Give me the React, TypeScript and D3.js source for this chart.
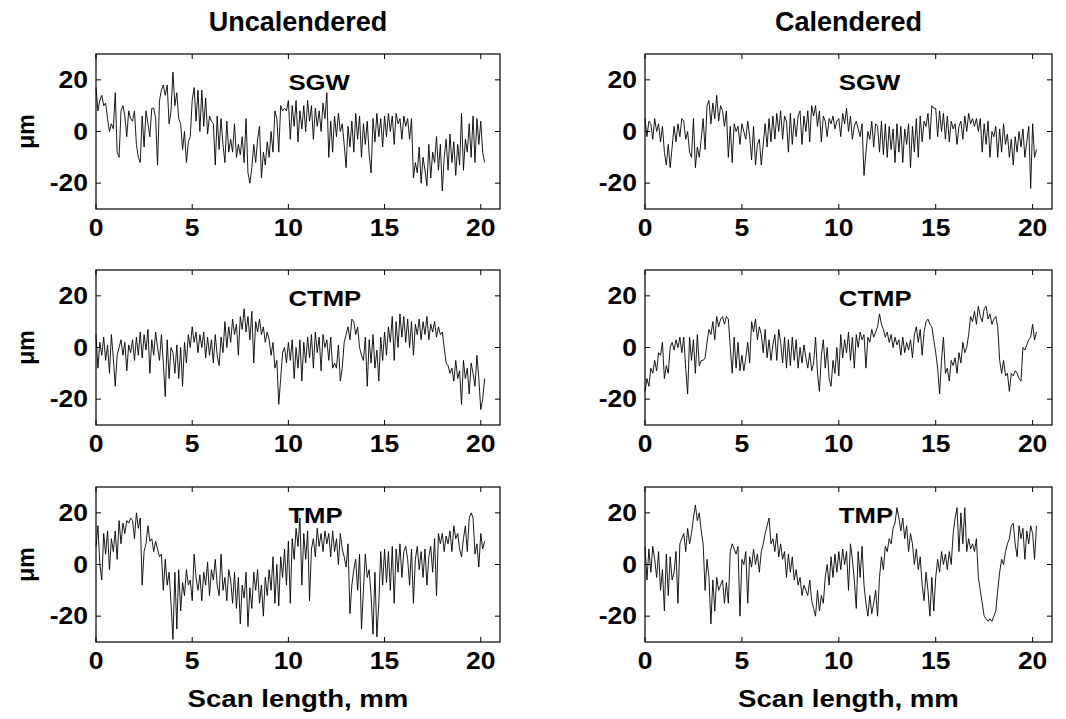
import * as d3 from 'd3';

// sample spacing of the profilometer scans (mm)
const STEP = 0.1;

const columnTitles = ['Uncalendered', 'Calendered'];
const rowLabels = ['SGW', 'CTMP', 'TMP'];
const xTicks = [0, 5, 10, 15, 20];
const yTicks = [-20, 0, 20];

// surface height (µm), every 0.1 mm
const sgwUncal = [
  17, 8, 12, 14, 10, 11, 5, 0, 3, 1,
  15, -8, -10, 8, 10, 6, -2, 8, 5, 4,
  8, -5, -10, -12, 6, -6, 8, 3, -2, 9,
  9, 5, -13, 12, 16, 18, 14, 18, 3, 8,
  23, 10, 15, 5, 3, -7, 0, -12, -4, -2,
  12, 17, 4, 16, 0, 16, 2, 13, -1, 6,
  4, 3, -13, 6, -7, 5, -5, -12, 4, -8,
  -3, -8, 3, -10, -5, -9, -2, -12, 5, -16,
  -20, -14, -5, -12, -3, 2, -18, -8, -13, -4,
  -10, 0, -8, 8, 5, -8, 10, 8, 9, 8,
  12, -3, 10, 2, 12, -4, 8, 1, 10, 0,
  12, 4, 10, -3, 9, 2, 8, 0, 11, 5,
  15, -10, 4, -8, 6, -2, 7, 0, 3, -5,
  -14, 2, -6, 4, -8, 7, -3, 6, -10, 3,
  -5, 4, -9, -16, 5, -4, 7, -2, 5, -6,
  6, -2, 7, 0, 6, -5, 7, 3, 5, -3,
  6, 2, 5, -3, 5, -18, -12, -16, -6, -20,
  -10, -15, -21, -5, -18, -8, -12, -2, -15, -5,
  -23, -10, -3, -15, -1, -12, -4, -17, -5, -13,
  7, -15, -3, -8, 3, -10, 6, -12, 5, -5,
  4, -8, -12,
];

const sgwCal = [
  5, -2, 4, 3, -3, 5, 0, 3, -4, 2,
  -8, -13, -5, -14, -6, 2, -4, 3, -2, 5,
  4, -3, 0, -8, -10, 5, -14, -6, -10, -3,
  5, -7, 10, 12, 3, 11, 5, 14, 4, 10,
  8, 2, 8, -10, 2, -12, 3, 0, 2, -5,
  3, 0, -3, 4, -2, -11, 2, -13, -5, -3,
  -13, -5, 3, -6, 5, -4, 6, -3, 7, 0,
  8, -3, 6, 4, -8, 7, -5, 5, -2, 6,
  8, -5, 6, 0, 8, -4, 10, 6, 10, 2,
  8, -4, 6, 4, -2, 5, 3, 6, 1, 4,
  5, -2, 7, 3, 9, 0, 6, -3, 2, 4,
  1, -2, 3, -17, -8, 0, -3, 4, -6, 3,
  2, -8, 4, -9, 3, -10, 2, -7, 1, -12,
  3, -8, 2, -12, 1, -5, 3, -14, 2, -8,
  5, -10, 6, -4, 4, 2, 7, -3, 10, 9,
  9, -2, 8, 0, 7, -3, 6, -4, 4, 1,
  3, -5, 2, 4, -3, 6, 0, 7, 3, 5,
  2, 5, 0, 5, -8, 3, -5, 4, -10, 0,
  -2, 2, -10, 1, -8, 3, -5, -1, -10, -3,
  -13, -2, -8, 0, -6, 1, -10, -4, 2, -22,
  3, -10, -7,
];

const ctmpUncal = [
  5, -8, 2, -3, 4, -5, 1, -10, 5, -4,
  -15, -3, 0, 3, -3, 2, -9, 1, -2, 3,
  -5, 4, -3, 6, -4, 5, -1, 7, -10, 3,
  -3, 6, 0, -5, 5, -6, -19, 3, -12, 0,
  -2, -10, 1, -12, 0, -15, 2, -6, 5, 0,
  8, 2, 6, -2, 5, 0, 6, -4, 4, -3,
  3, -6, 5, -3, -7, 4, -2, 10, 0, 8,
  2, 11, 5, 9, -3, 12, 7, 15, 6, 12,
  3, 14, -6, 10, 6, 11, 5, 8, 2, 6,
  3, -3, 2, -8, -5, -22, -12, -2, 0, -6,
  2, -5, 3, -12, 0, -8, 3, -13, 2, -6,
  4, -4, 5, -8, 6, -2, 4, -9, 5, 0,
  3, -5, 4, -8, -6, -8, 1, -13, -8, 2,
  5, 8, 3, 11, 10, 5, 8, 0, -3, -5,
  4, -15, 3, -6, 5, -8, -1, -13, 4, -5,
  6, -3, 8, 2, 12, -5, 10, 0, 13, 4,
  12, 2, 11, 0, 10, -3, 9, 5, 11, 3,
  10, 5, 12, 3, 9, 6, 10, 4, 8, 5,
  6, 0, -6, -7, -10, -8, -13, -5, -12, -9,
  -22, -5, -12, -8, -18, -6, -10, -15, -3, -12,
  -24, -20, -12,
];

const ctmpCal = [
  -17, -12, -15, -8, -10, -5, -9, -2, -3, 2,
  -12, -7, -10, 0, 2, -1, 3, 0, 4, -2,
  4, -8, -18, 4, -5, 3, -10, 5, -7, -5,
  -5, -4, 2, 7, 5, 10, 3, 12, 8, 11,
  12, 9, 12, 11, 0, -10, 4, -8, 2, -9,
  -3, -9, -4, 2, -6, 10, 6, 11, 3, 8,
  5, -2, 7, -4, 3, -5, 1, 5, -5, 7,
  2, -6, 4, -8, 3, -7, 4, -5, 3, -8,
  0, -6, 1, -4, -8, -2, -9, -6, 4, -10,
  -17, -3, 3, -8, 0, -12, -15, -5, -10, 0,
  -11, 5, -4, 3, -2, 6, -5, 4, -8, 5,
  0, 6, 3, 5, -8, 4, 2, 7, 4, 6,
  8, 13, 9, 7, 4, 6, 2, 5, 0, 4,
  1, 3, -3, 4, -2, 2, -1, 3, -4, 5,
  8, 2, 7, -3, 6, 10, 11, 9, 8, 3,
  -2, -8, -18, -5, 4, -10, -8, -13, -5, -7,
  -4, -10, -2, -6, 2, -2, 0, 5, 12, 10,
  14, 9, 16, 12, 10, 15, 16, 11, 13, 9,
  11, 12, 8, -5, -10, -5, -11, -10, -17, -10,
  -11, -9, -10, -12, -13, 0, -1, 1, 3, 4,
  9, 3, 6,
];

const tmpUncal = [
  7, 15, 0, -6, 12, 4, 13, -2, 10, 5,
  13, 2, 17, 8, 16, 12, 17, 16, 18, 17,
  10, 20, 14, 18, -8, 5, 8, 15, 9, 10,
  5, 9, 6, 3, 4, -10, 2, -8, -3, -15,
  -29, -3, -25, -2, -18, -7, -12, -2, -8, -6,
  -14, 4, -5, -10, -4, -14, -3, -8, 1, -12,
  -2, -6, 2, -8, -12, 4, -10, -5, -14, -2,
  -6, -15, -3, -17, -5, -23, -8, -13, -3, -24,
  -9, -17, -3, -10, -2, -15, -8, -20, -5, -12,
  -2, -10, 3, -15, 0, -16, 3, -5, 6, -8,
  9, -15, 10, 2, 14, 7, 18, -8, 12, 2,
  13, -14, 6, 10, 3, 14, 7, 12, 5, 13,
  8, 12, 3, 13, 5, 10, 0, 12, 6, 3,
  -1, 8, -19, -8, -2, 2, -10, 4, -25, -10,
  4, -5, -2, -12, -27, -3, -28, -15, 5, -8,
  6, -7, 5, -10, 7, -15, 6, -3, 8, -5,
  5, 7, 2, -8, 6, -15, 2, 7, -2, 5,
  -5, 6, -8, 3, 7, -3, 10, -12, 12, 8,
  12, 5, 11, 8, 13, 5, 15, 10, 12, 6,
  3, 10, 15, 5, 18, 20, 18, 4, 8, -1,
  12, 6, 9,
];

const tmpCal = [
  7, -6, 6, -3, 7, 2, -5, 5, -10, -2,
  -18, 4, -12, 3, -6, -3, 5, -15, 8, 10,
  12, 5, 14, 8, 12, 18, 23, 17, 20, 13,
  8, -10, 2, -5, -23, -6, -18, -5, -10, -8,
  -6, -15, -7, -15, 5, 8, 6, 4, 7, -20,
  2, 0, 5, -15, 3, -1, 6, 0, 4, -3,
  5, 8, 12, 15, 18, 8, 10, 5, 12, 3,
  8, 2, 5, -5, 4, -3, 3, -6, -2, -8,
  -5, -12, -8, -10, -12, -6, -14, -17, -20, -10,
  -18, -12, -15, -5, 0, -8, 3, -5, 4, -3,
  5, -2, 6, 0, 5, -10, 8, 2, -6, -17,
  5, -5, 7, -8, -15, -20, -12, -19, -15, -10,
  -20, -5, 3, -2, 7, 5, 10, 8, 14, 16,
  22, 18, 13, 18, 10, 15, 5, 12, 8, 0,
  6, -2, 3, -8, -14, -3, -10, -20, -5, -18,
  -5, 2, -3, 5, 0, 4, -2, 5, 0, 12,
  18, 22, 5, 20, 8, 22, 5, 10, 6, 8,
  5, 10, -5, -10, -15, -20, -21, -22, -21, -22,
  -20, -18, -10, -3, 2, 0, 5, 8, 10, 15,
  16, 8, 3, 15, 10, 14, 2, 13, 8, 15,
  12, 2, 15,
];

const series = [
  [sgwUncal, sgwCal],
  [ctmpUncal, ctmpCal],
  [tmpUncal, tmpCal],
];

const WIDTH = 1066;
const HEIGHT = 719;
const colX = [
  [96, 500],
  [645, 1052],
];
const rowTop = [54, 270, 487];
const PANEL_H = 155;
const TICK = 5;
const FONT = '"Liberation Sans", Arial, Helvetica, sans-serif';

function SText({ x, y, sx = 1, size, anchor = 'middle', children, rotate = 0 }: any) {
  return (
    <text
      transform={`translate(${x},${y}) rotate(${rotate}) scale(${sx},1)`}
      textAnchor={anchor}
      fontFamily={FONT}
      fontWeight="bold"
      fontSize={size}
      fill="#000"
    >
      {children}
    </text>
  );
}

function Panel({ values, col, row }: { values: number[]; col: number; row: number }) {
  const [x0, x1] = colX[col];
  const top = rowTop[row];
  const bottom = top + PANEL_H;
  const x = d3.scaleLinear().domain([0, 21]).range([x0, x1]);
  const y = d3.scaleLinear().domain([-30, 30]).range([bottom, top]);
  const line = d3
    .line<number>()
    .x((_, i) => x(i * STEP))
    .y((d) => y(d));

  return (
    <g>
      <path d={line(values) || ''} fill="none" stroke="#000" strokeWidth={0.9} />
      <rect x={x0} y={top} width={x1 - x0} height={PANEL_H} fill="none" stroke="#000" strokeWidth={1.2} />
      {xTicks.map((t) => (
        <g key={`x${t}`}>
          <line x1={x(t)} x2={x(t)} y1={bottom} y2={bottom - TICK} stroke="#000" />
          <line x1={x(t)} x2={x(t)} y1={top} y2={top + TICK} stroke="#000" />
          <SText x={x(t)} y={bottom + 27} sx={1.15} size={23}>
            {t}
          </SText>
        </g>
      ))}
      {yTicks.map((t) => (
        <g key={`y${t}`}>
          <line x1={x0} x2={x0 + TICK} y1={y(t)} y2={y(t)} stroke="#000" />
          <line x1={x1} x2={x1 - TICK} y1={y(t)} y2={y(t)} stroke="#000" />
          <SText x={x0 - 8} y={y(t) + 8} sx={1.15} size={23} anchor="end">
            {t}
          </SText>
        </g>
      ))}
      <SText x={x(10)} y={y(16)} sx={1.17} size={22} anchor="start">
        {rowLabels[row]}
      </SText>
      {col === 0 && (
        <SText x={34} y={y(0)} size={23} rotate={-90}>
          μm
        </SText>
      )}
      {row === 2 && (
        <SText x={(x0 + x1) / 2} y={707} sx={1.15} size={24}>
          Scan length, mm
        </SText>
      )}
    </g>
  );
}

export default function App() {
  return (
    <svg
      width={WIDTH}
      height={HEIGHT}
      style={{ position: 'absolute', left: 0, top: 0, background: '#fff' }}
    >
      <rect width={WIDTH} height={HEIGHT} fill="#fff" />
      {columnTitles.map((t, c) => (
        <SText key={t} x={(colX[c][0] + colX[c][1]) / 2} y={31} size={27}>
          {t}
        </SText>
      ))}
      {series.map((rowSeries, r) =>
        rowSeries.map((vals, c) => <Panel key={`${r}-${c}`} values={vals} col={c} row={r} />)
      )}
    </svg>
  );
}
